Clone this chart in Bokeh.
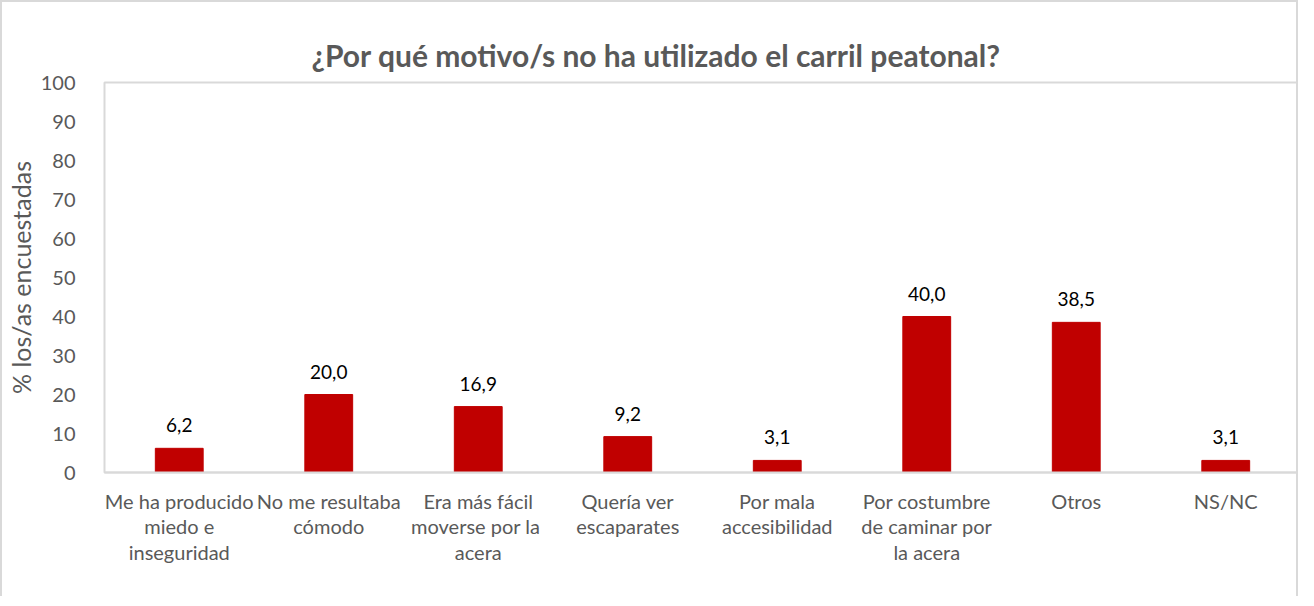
from bokeh.plotting import figure
from bokeh.models import ColumnDataSource, FactorRange, Range1d, FixedTicker
from bokeh.core.properties import value
from bokeh.embed import file_html
from bokeh.resources import INLINE

categories = [
    "Me ha producido\nmiedo e\ninseguridad",
    "No me resultaba\ncómodo",
    "Era más fácil\nmoverse  por la\nacera",
    "Quería ver\nescaparates",
    "Por mala\naccesibilidad",
    "Por costumbre\nde caminar por\nla acera",
    "Otros",
    "NS/NC",
]
values = [6.2, 20.0, 16.9, 9.2, 3.1, 40.0, 38.5, 3.1]
labels = [f"{v:.1f}".replace(".", ",") for v in values]
y_ticks = list(range(0, 101, 10))

FONT = "Lato"
GREY = "#595959"
LINE = "#d9d9d9"

source = ColumnDataSource(dict(cat=categories, val=values, lab=labels))

p = figure(
    x_range=FactorRange(*categories, range_padding=0),
    y_range=Range1d(0, 100),
    width=1298, height=596,
    output_backend="svg", toolbar_location=None,
    min_border_left=99, min_border_top=80, min_border_bottom=126, min_border_right=0,
    title="¿Por qué motivo/s no ha utilizado el carril peatonal?",
)
p.styles = {"border-left": f"2px solid {LINE}", "border-top": f"2px solid {LINE}",
            "border-right": f"2px solid {LINE}"}

p.title.align = "left"
p.title.offset = 207
p.title.text_font = FONT
p.title.text_font_size = "30px"
p.title.text_font_style = "bold"
p.title.text_color = GREY
p.title.standoff = 19

p.vbar(x="cat", top="val", width=0.32, source=source, color="#C00000")
p.text(x="cat", y="val", text="lab", source=source, text_align="center",
       text_baseline="middle", y_offset=-23, text_font=value(FONT),
       text_font_size="19px", text_color="black")

p.xgrid.visible = False
p.ygrid.visible = False
p.outline_line_color = LINE
p.outline_line_width = 2

p.yaxis.ticker = FixedTicker(ticks=y_ticks)
p.yaxis.axis_line_color = None
p.yaxis.major_tick_line_color = None
p.yaxis.minor_tick_line_color = None
p.yaxis.major_label_standoff = 23
p.yaxis.major_label_text_font = FONT
p.yaxis.major_label_text_font_size = "20px"
p.yaxis.major_label_text_color = GREY
p.yaxis.axis_label = "% los/as encuestadas"
p.yaxis.axis_label_text_font = FONT
p.yaxis.axis_label_text_font_size = "25px"
p.yaxis.axis_label_text_font_style = "normal"
p.yaxis.axis_label_text_color = GREY
p.yaxis.axis_label_standoff = 2

p.xaxis.axis_line_color = LINE
p.xaxis.axis_line_width = 2
p.xaxis.major_tick_line_color = None
p.xaxis.minor_tick_line_color = None
p.xaxis.major_tick_out = 0
p.xaxis.major_label_standoff = 16
p.xaxis.major_label_text_font = FONT
p.xaxis.major_label_text_font_size = "20px"
p.xaxis.major_label_text_color = GREY
p.xaxis.major_label_text_align = "center"
p.xaxis.major_label_text_baseline = "top"
p.xaxis.major_label_text_line_height = 1.08

open("out.html", "w").write(file_html(p, INLINE))
